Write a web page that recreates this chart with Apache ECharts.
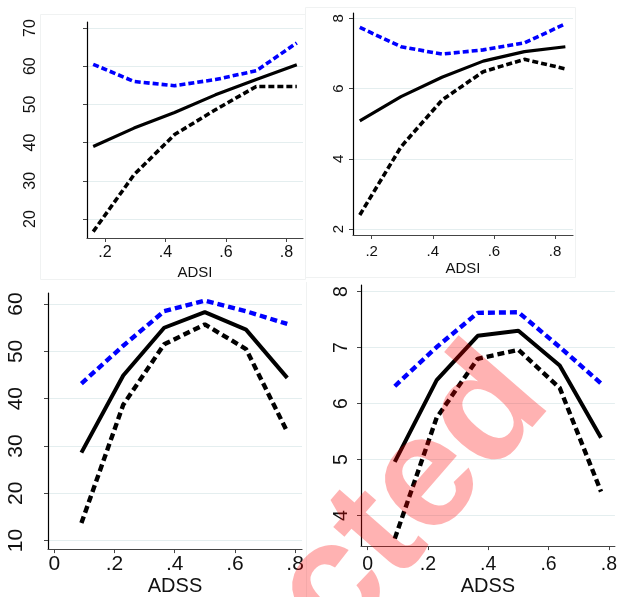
<!DOCTYPE html>
<html><head><meta charset="utf-8">
<script src="https://cdn.jsdelivr.net/npm/echarts@6/dist/echarts.min.js"></script>
<style>html,body{margin:0;padding:0;background:#fff}#c{width:620px;height:597px}</style>
</head><body><div id="c"></div>
<script>
// ---- data ----
const xADSI = [0.161, 0.296, 0.43, 0.565, 0.70, 0.834];
const xADSS = [0.09, 0.229, 0.365, 0.50, 0.637, 0.774];

const p1Fit   = [39.0, 43.8, 47.9, 52.5, 56.5, 60.4];
const p1Upper = [60.5, 56.0, 54.9, 56.5, 58.8, 66.1];
const p1Lower = [16.7, 31.6, 42.1, 48.6, 54.7, 54.7];

const p2Fit   = [5.08, 5.77, 6.32, 6.78, 7.05, 7.19];
const p2Upper = [7.74, 7.19, 6.98, 7.10, 7.30, 7.84];
const p2Lower = [2.40, 4.34, 5.67, 6.48, 6.83, 6.56];

const p3Fit   = [28.6, 44.9, 55.0, 58.3, 54.6, 44.4];
const p3Upper = [43.2, 51.2, 58.5, 60.75, 58.5, 55.8];
const p3Lower = [13.7, 38.7, 51.5, 55.7, 50.5, 33.0];

const p4Fit   = [4.96, 6.42, 7.21, 7.30, 6.68, 5.39];
const p4Upper = [6.31, 7.01, 7.62, 7.63, 7.01, 6.36];
const p4Lower = [3.59, 5.75, 6.80, 6.96, 6.28, 4.43];

const xTicksADSI = [0.2, 0.4, 0.6, 0.8];
const xTicksADSS = [0, 0.2, 0.4, 0.6, 0.8];
const yTicksP1 = [20, 30, 40, 50, 60, 70];
const yTicksP2 = [2, 4, 6, 8];
const yTicksP3 = [10, 20, 30, 40, 50, 60];
const yTicksP4 = [4, 5, 6, 7, 8];

const xTitleTop = 'ADSI';
const xTitleBottom = 'ADSS';
const watermark = 'Redacted';

// ---- build ----
const FONT = '"Liberation Sans", Arial, sans-serif';
const fmtX = v => v === 0 ? '0' : String(v).replace(/^0/, '');
const pairs = (xs, ys) => xs.map((x, i) => [x, ys[i]]);

const grids = [
  {left: 87, top: 22, width: 216, height: 216},
  {left: 353, top: 13, width: 220, height: 222},
  {left: 48, top: 293, width: 254, height: 260},
  {left: 361, top: 285, width: 258, height: 266}
];
const xr = [[0.1405, 0.8545], [0.1388, 0.859], [-0.021, 0.823], [-0.022, 0.820]];
const yr = [[15.03, 71.57], [1.83, 8.15], [8.19, 62.35], [3.457, 8.117]];
const xt = [xTicksADSI, xTicksADSI, xTicksADSS, xTicksADSS];
const yt = [yTicksP1, yTicksP2, yTicksP3, yTicksP4];
const names = [xTitleTop, xTitleTop, xTitleBottom, xTitleBottom];
const fs = [16, 15, 21, 19.5];
const nfs = [15, 15, 20, 20];
const ymarg = [48, 7, 21, 9];
const xmarg = [7, 9, 5, 9];
const ngap = [27, 26, 25, 28];

const xAxis = grids.map((g, i) => ({
  type: 'value', gridIndex: i, min: xr[i][0], max: xr[i][1],
  name: names[i], nameLocation: 'middle', nameGap: ngap[i],
  nameTextStyle: {fontFamily: FONT, fontSize: nfs[i], color: '#111'},
  axisLine: {show: true, onZero: false, lineStyle: {color: '#444', width: 1.2}},
  axisTick: {show: true, customValues: xt[i], length: 4, lineStyle: {color: '#444'}},
  axisLabel: {customValues: xt[i], formatter: fmtX, fontFamily: FONT, fontSize: fs[i], color: '#111', margin: xmarg[i]},
  splitLine: {show: false}
}));
const yAxis = grids.map((g, i) => ({
  type: 'value', gridIndex: i, min: yr[i][0], max: yr[i][1],
  axisLine: {show: true, onZero: false, lineStyle: {color: '#000', width: 1.2}},
  axisTick: {show: true, customValues: yt[i], length: 4, lineStyle: {color: '#444'}},
  axisLabel: {customValues: yt[i], rotate: 90, fontFamily: FONT, fontSize: fs[i], color: '#111', margin: ymarg[i]},
  splitLine: {show: true, lineStyle: {color: '#e4eeef', width: 1}}
}));

const panels = [
  [xADSI, p1Fit, p1Upper, p1Lower],
  [xADSI, p2Fit, p2Upper, p2Lower],
  [xADSS, p3Fit, p3Upper, p3Lower],
  [xADSS, p4Fit, p4Upper, p4Lower]
];
const series = [];
panels.forEach((p, i) => {
  const big = i >= 2;
  const w = big ? 4 : 3.2;
  const dash = big ? [7, 4] : [6, 3];
  const base = {type: 'line', xAxisIndex: i, yAxisIndex: i, symbol: 'none', silent: true, animation: false};
  series.push(Object.assign({}, base, {data: pairs(p[0], p[2]), lineStyle: {color: '#0000ff', width: w + 0.4, type: dash}}));
  series.push(Object.assign({}, base, {data: pairs(p[0], p[3]), lineStyle: {color: '#000', width: w + 0.4, type: dash}}));
  series.push(Object.assign({}, base, {data: pairs(p[0], p[1]), lineStyle: {color: '#000', width: w}}));
});

const chart = echarts.init(document.getElementById('c'), null, {renderer: 'canvas'});
chart.setOption({
  animation: false,
  backgroundColor: '#fff',
  grid: grids.map(g => Object.assign({containLabel: false}, g)),
  xAxis, yAxis, series,
  graphic: [
    {type: 'rect', z: -10, shape: {x: 40.5, y: 14.5, width: 265, height: 265}, style: {fill: 'none', stroke: '#f0f2f2', lineWidth: 1}},
    {type: 'rect', z: -10, shape: {x: 305.5, y: 7.5, width: 270, height: 270}, style: {fill: 'none', stroke: '#f0f2f2', lineWidth: 1}},
    {type: 'line', z: -10, shape: {x1: 306.5, y1: 282, x2: 306.5, y2: 597}, style: {stroke: '#f0f2f2', lineWidth: 1}},
    {type: 'text', z: 100, x: 520, y: 374, rotation: 49 * Math.PI / 180,
      style: {text: watermark, font: 'bold 160px "Liberation Sans", Arial, sans-serif', fill: 'rgba(255,0,0,0.3)', align: 'right', verticalAlign: 'middle'}}
  ]
});
</script></body></html>
